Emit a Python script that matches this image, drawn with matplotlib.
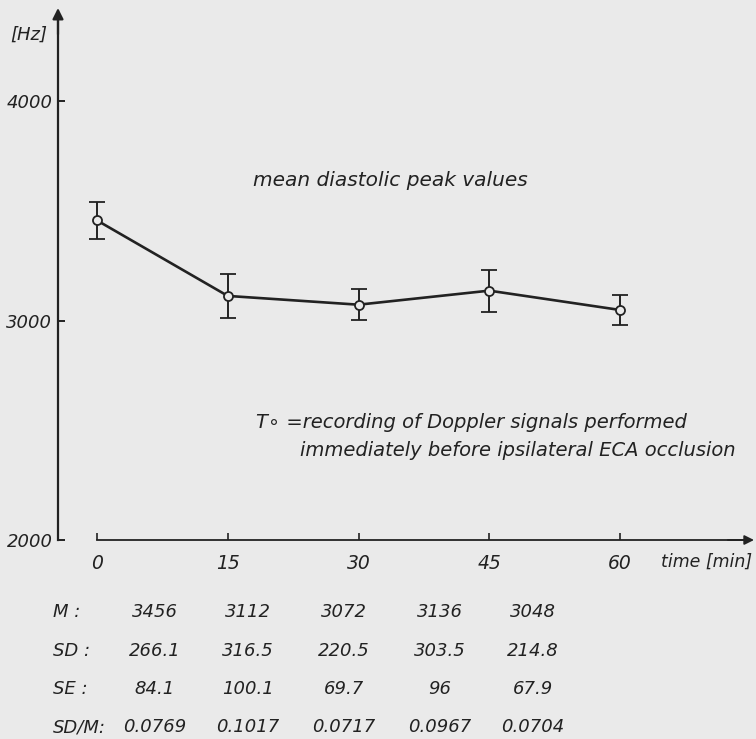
import matplotlib
matplotlib.use("Agg")
import matplotlib.pyplot as plt

times = [0, 15, 30, 45, 60]
mean_hz = [3456, 3112, 3072, 3136, 3048]
sd_hz = [266.1, 316.5, 220.5, 303.5, 214.8]
se_hz = [84.1, 100.1, 69.7, 96, 67.9]
sd_m = [0.0769, 0.1017, 0.0717, 0.0967, 0.0704]
y_ticks = [2000, 3000, 4000]

W, H = 756, 739
bg = "#eaeaea"
ink = "#222222"
fs = 13

plt.rcParams["font.family"] = "DejaVu Sans"
plt.rcParams["font.style"] = "italic"

fig = plt.figure(figsize=(W / 100, H / 100), dpi=100, facecolor=bg)
ax = fig.add_axes([0, 0, 1, 1], facecolor=bg)

# pixel layout of the scan: t=0 -> 97px, t=60 -> 620px; 2000Hz -> 540px, 4000Hz -> 101px
sx = (620 - 97) / 60.0
sy = (540 - 101) / 2000.0
ax.set_xlim(-97 / sx, (W - 97) / sx)
ax.set_ylim(2000 - (H - 540) / sy, 2000 + 540 / sy)

def px(x, y):
    return x / W, 1 - y / H

yaxis_x = (58 - 97) / sx
xaxis_end = (754 - 97) / sx
yaxis_top = 2000 + (540 - 8) / sy

for s in ["top", "right"]:
    ax.spines[s].set_visible(False)
ax.spines["left"].set_position(("data", yaxis_x))
ax.spines["left"].set_bounds(2000, yaxis_top - 40)
ax.spines["left"].set_linewidth(1.6)
ax.spines["left"].set_color(ink)
ax.spines["bottom"].set_position(("data", 2000))
ax.spines["bottom"].set_bounds(0, xaxis_end - 1)
ax.spines["bottom"].set_linewidth(1.3)
ax.spines["bottom"].set_color(ink)

ax.set_xticks(times)
ax.set_xticklabels([str(t) for t in times])
ax.set_yticks(y_ticks)
ax.set_yticklabels([str(v) for v in y_ticks])
ax.tick_params(axis="x", direction="in", length=5, width=1.2, color=ink,
               labelsize=fs + 0.5, labelcolor=ink, pad=10)
ax.tick_params(axis="y", direction="in", length=5, width=1.4, color=ink,
               labelsize=fs, labelcolor=ink, pad=4)

# arrow heads
ax.annotate("", xy=(yaxis_x, yaxis_top), xytext=(yaxis_x, yaxis_top - 120),
            arrowprops=dict(arrowstyle="-|>", color=ink, lw=1.6,
                            mutation_scale=16, shrinkA=0, shrinkB=0))
ax.annotate("", xy=(xaxis_end, 2000), xytext=(xaxis_end - 3, 2000),
            arrowprops=dict(arrowstyle="-|>", color=ink, lw=1.3,
                            mutation_scale=14, shrinkA=0, shrinkB=0))

ax.errorbar(times, mean_hz, yerr=se_hz, color=ink, lw=1.9, elinewidth=1.4,
            capsize=5.5, capthick=1.4, marker="o", markersize=6.5,
            markerfacecolor=bg, markeredgecolor=ink, markeredgewidth=1.3, zorder=3)

fig.text(*px(29, 35), "[Hz]", fontsize=fs, color=ink, ha="center", va="center")
fig.text(*px(253, 180), "mean diastolic peak values", fontsize=14.5, color=ink,
         ha="left", va="center")
fig.text(*px(256, 423), "T\u2218 =recording of Doppler signals performed",
         fontsize=14, color=ink, ha="left", va="center")
fig.text(*px(300, 450), "immediately before ipsilateral ECA occlusion",
         fontsize=14, color=ink, ha="left", va="center")
fig.text(*px(661, 562), "time [min]", fontsize=12.5, color=ink, ha="left", va="center")

# table below the axis
cols = [155, 248, 344, 440, 533]
rows = [
    ("M :", [f"{v:d}" for v in mean_hz], 612),
    ("SD :", [f"{v:.1f}" for v in sd_hz], 651),
    ("SE :", [f"{v:g}" for v in se_hz], 689),
    ("SD/M:", [f"{v:.4f}" for v in sd_m], 727),
]
for label, vals, ry in rows:
    fig.text(*px(53, ry), label, fontsize=fs, color=ink, ha="left", va="center")
    for cx, v in zip(cols, vals):
        fig.text(*px(cx, ry), v, fontsize=fs, color=ink, ha="center", va="center")

fig.savefig("out.png", dpi=100, facecolor=bg)
